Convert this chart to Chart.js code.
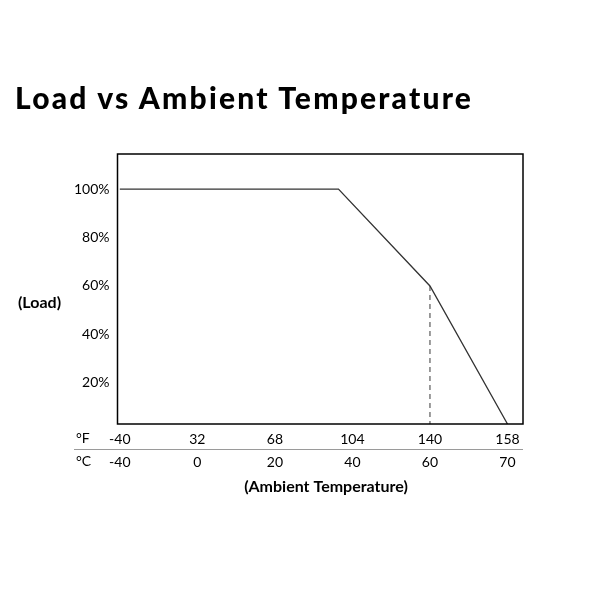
<!DOCTYPE html>
<html lang="en">
  <head>
    <meta charset="UTF-8" />
    <title>Load vs Ambient Temperature</title>
    <script src="https://cdn.jsdelivr.net/npm/chart.js"></script>
    <style>
      body {
        margin: 0;
        background: #ffffff;
      }
      #wrap {
        position: relative;
        width: 600px;
        height: 600px;
      }
      h1 {
        position: absolute;
        left: 15px;
        top: 79px;
        margin: 0;
        font-family: Lato, sans-serif;
        font-weight: 900;
        font-size: 30px;
        line-height: 36px;
        letter-spacing: 2.2px;
        color: #000000;
      }
    </style>
  </head>
  <body>
    <div id="wrap">
      <h1>Load vs Ambient Temperature</h1>
      <canvas id="loadChart" width="600" height="600"></canvas>
    </div>

    <script>
      // tick positions are evenly spaced, so x values are tick indexes
      const tickIndex = [0, 1, 2, 3, 4, 5];
      const fahrenheitLabels = ["-40", "32", "68", "104", "140", "158"];
      const celsiusLabels = ["-40", "0", "20", "40", "60", "70"];
      const loadTicks = [20, 40, 60, 80, 100];

      // derating curve (x = tick index, y = load %)
      const curveX = [0, 2.82, 4, 5];
      const curveY = [100, 100, 60, 3];

      // dashed marker at 60 °C
      const markerX = [4, 4];
      const markerY = [60, 3];

      const font = "Lato, sans-serif";

      const extras = {
        id: "extras",
        afterDraw(chart) {
          const c = chart.ctx;
          const a = chart.chartArea;
          c.save();
          c.strokeStyle = "#000000";
          c.lineWidth = 1.5;
          c.strokeRect(a.left, a.top, a.right - a.left, a.bottom - a.top);

          c.strokeStyle = "#9a9a9a";
          c.lineWidth = 1;
          c.beginPath();
          c.moveTo(74, 449.5);
          c.lineTo(a.right, 449.5);
          c.stroke();

          c.fillStyle = "#000000";
          c.textBaseline = "middle";
          c.font = "14px " + font;
          c.textAlign = "left";
          c.fillText("\u00B0F", 76, 438);
          c.fillText("\u00B0C", 76, 461);

          c.font = "bold 16px " + font;
          c.textAlign = "center";
          c.fillText("(Load)", 39.5, 303);
          c.fillText("(Ambient Temperature)", 326, 487);
          c.restore();
        },
      };

      const xCommon = {
        type: "linear",
        position: "bottom",
        min: -0.03,
        max: 5.2,
        grid: { display: false, drawTicks: false },
        border: { display: false },
        afterBuildTicks: (axis) => {
          axis.ticks = tickIndex.map((v) => ({ value: v }));
        },
      };

      new Chart(document.getElementById("loadChart"), {
        type: "line",
        data: {
          datasets: [
            {
              data: curveX.map((x, i) => ({ x: x, y: curveY[i] })),
              borderColor: "#333333",
              borderWidth: 1.3,
              pointRadius: 0,
              fill: false,
            },
            {
              data: markerX.map((x, i) => ({ x: x, y: markerY[i] })),
              borderColor: "#666666",
              borderWidth: 1.3,
              borderDash: [5, 4],
              pointRadius: 0,
              fill: false,
            },
          ],
        },
        options: {
          responsive: false,
          animation: false,
          layout: {
            padding: { top: 154, left: 0, right: 77, bottom: 124 },
          },
          plugins: {
            legend: { display: false },
            tooltip: { enabled: false },
          },
          scales: {
            x: {
              ...xCommon,
              afterFit: (axis) => {
                axis.height = 26;
              },
              ticks: {
                padding: 7,
                color: "#000000",
                font: { family: font, size: 14 },
                maxRotation: 0,
                callback: (v) => fahrenheitLabels[v],
              },
            },
            xc: {
              ...xCommon,
              afterFit: (axis) => {
                axis.height = 26;
              },
              ticks: {
                padding: 4,
                color: "#000000",
                font: { family: font, size: 14 },
                maxRotation: 0,
                callback: (v) => celsiusLabels[v],
              },
            },
            y: {
              min: 3,
              max: 114.5,
              grid: { display: false, drawTicks: false },
              border: { display: false },
              afterFit: (axis) => {
                axis.width = 117.5;
              },
              afterBuildTicks: (axis) => {
                axis.ticks = loadTicks.map((v) => ({ value: v }));
              },
              ticks: {
                padding: 8,
                color: "#000000",
                font: { family: font, size: 14 },
                callback: (v) => v + "%",
              },
            },
          },
        },
        plugins: [extras],
      });
    </script>
  </body>
</html>
